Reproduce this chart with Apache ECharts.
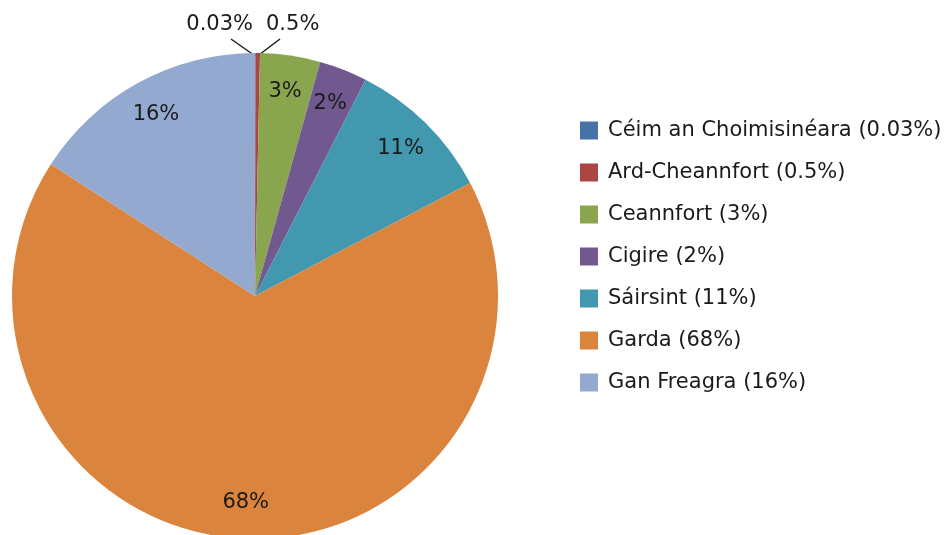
<!DOCTYPE html>
<html>
<head>
<meta charset="utf-8">
<script src="https://cdn.jsdelivr.net/npm/echarts@6/dist/echarts.min.js"></script>
<style>
  html, body { margin: 0; padding: 0; background: #fff; }
  #rank-pie { width: 950px; height: 535px; }
</style>
</head>
<body>
<div id="rank-pie"></div>
<script>
// categories (legend order = slice order, clockwise from 12 o'clock)
const categories = ['Céim an Choimisinéara', 'Ard-Cheannfort', 'Ceannfort', 'Cigire', 'Sáirsint', 'Garda', 'Gan Freagra'];
// slice sizes (percent)
const values = [0.03, 0.3, 4.0, 3.2, 9.8, 66.9, 15.9];
// the printed percentage texts
const pctLabels = ['0.03%', '0.5%', '3%', '2%', '11%', '68%', '16%'];
const colors = ['#4572A7', '#AA4643', '#89A54E', '#71588F', '#4198AF', '#DB843D', '#93A9CF'];

const FONT = 'DejaVu Sans';
const tinyCount = 2; // first two slices get outside labels with leader lines

const myChart = echarts.init(document.getElementById('rank-pie'));

const baseData = categories.map((name, i) => ({
  name: name,
  value: values[i],
  itemStyle: {color: colors[i]},
}));

const option = {
  animation: false,
  color: colors,
  legend: {
    orient: 'vertical',
    left: 580,
    top: 120,
    padding: 0,
    itemWidth: 18,
    itemHeight: 18,
    itemGap: 21,
    icon: 'rect',
    data: categories,
    formatter: (name) => name + ' (' + pctLabels[categories.indexOf(name)] + ')',
    textStyle: {
      fontFamily: FONT,
      fontSize: 21,
      color: '#1a1a1a',
      lineHeight: 21,
      padding: [0, 0, 0, 5],
    },
  },
  series: [
    {
      name: 'main',
      type: 'pie',
      center: [255, 296],
      radius: [0, 243],
      startAngle: 90,
      clockwise: true,
      avoidLabelOverlap: false,
      silent: true,
      itemStyle: {borderWidth: 0},
      data: baseData.map((d, i) => Object.assign({}, d, {
        label: {show: i < tinyCount},
        labelLine: {show: i < tinyCount},
      })),
      label: {
        position: 'outside',
        formatter: (p) => pctLabels[p.dataIndex],
        fontFamily: FONT,
        fontSize: 21,
        color: '#1a1a1a',
      },
      labelLine: {
        length: 10,
        length2: 0,
        lineStyle: {color: '#1a1a1a', width: 1.5},
      },
      // pull the two tiny-slice labels up and apart; the leader line runs
      // from under the text down to the tip of the slice
      labelLayout: (p) => {
        const tipX = p.rect.x + p.rect.width / 2;
        const tipY = p.rect.y + 3;
        if (p.dataIndex === 0) {
          return {
            x: 253, y: 25, align: 'right', verticalAlign: 'middle',
            labelLinePoints: [[231, 39], [(231 + tipX) / 2, (39 + tipY) / 2], [tipX, tipY]],
          };
        }
        if (p.dataIndex === 1) {
          return {
            x: 266, y: 25, align: 'left', verticalAlign: 'middle',
            labelLinePoints: [[280, 39], [(280 + tipX) / 2, (39 + tipY) / 2], [tipX, tipY]],
          };
        }
        return {};
      },
    },
    {
      // transparent ring only used to place the inside labels further out
      name: 'labels',
      type: 'pie',
      center: [255, 296],
      radius: [174, 234],
      startAngle: 90,
      clockwise: true,
      silent: true,
      legendHoverLink: false,
      itemStyle: {color: 'rgba(0,0,0,0)', borderWidth: 0},
      data: categories.map((name, i) => ({
        name: name + ' ',
        value: values[i],
        label: {show: i >= tinyCount},
      })),
      label: {
        position: 'inside',
        formatter: (p) => pctLabels[p.dataIndex],
        fontFamily: FONT,
        fontSize: 21,
        color: '#1a1a1a',
      },
      labelLine: {show: false},
    },
  ],
};
myChart.setOption(option);
</script>
</body>
</html>
